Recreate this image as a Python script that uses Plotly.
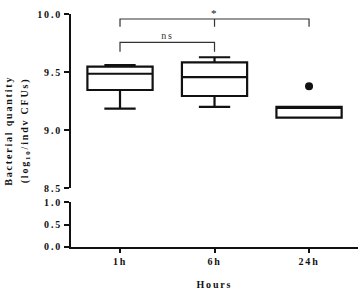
import plotly.graph_objects as go

# ---- data ----
hours = ["1h", "6h", "24h"]
q1 = [9.345, 9.293, 9.106]
median = [9.485, 9.455, 9.200]
q3 = [9.546, 9.583, 9.200]
lower_fence = [9.184, 9.200, 9.106]
upper_fence = [9.560, 9.627, 9.200]
outlier_x = ["24h"]
outlier_y = [9.378]

# significance brackets
star_x = ["1h", "1h", "24h", "24h"]
star_y = [9.89, 9.957, 9.957, 9.89]
star_mid_x = ["6h", "6h"]
star_mid_y = [9.957, 9.89]
ns_x = ["1h", "1h", "6h", "6h"]
ns_y = [9.675, 9.756, 9.756, 9.675]

FONT = "Liberation Serif"
INK = "#111111"

fig = go.Figure()

# empty trace so the lower (broken) axis segment exists
fig.add_trace(go.Scatter(x=hours, y=[None, None, None], yaxis="y",
                         mode="markers", showlegend=False, hoverinfo="skip"))

fig.add_trace(go.Box(
    x=hours, q1=q1, median=median, q3=q3,
    lowerfence=lower_fence, upperfence=upper_fence,
    width=0.69, whiskerwidth=0.48,
    line=dict(color=INK, width=2.2), fillcolor="white",
    boxpoints=False, yaxis="y2", showlegend=False,
))

fig.add_trace(go.Scatter(
    x=outlier_x, y=outlier_y, mode="markers", yaxis="y2",
    marker=dict(color=INK, size=8), showlegend=False,
))

for bx, by in [(star_x, star_y), (star_mid_x, star_mid_y), (ns_x, ns_y)]:
    fig.add_trace(go.Scatter(
        x=bx, y=by, mode="lines", yaxis="y2",
        line=dict(color="#333333", width=1.2), showlegend=False,
        cliponaxis=False,
    ))

tickfont = dict(family=FONT, size=10, color=INK, weight="bold")
axis_common = dict(
    showline=True, linecolor=INK, linewidth=2,
    ticks="outside", ticklen=5, tickwidth=2, tickcolor=INK,
    showgrid=False, zeroline=False, tickfont=tickfont,
)

fig.update_layout(
    width=358, height=289,
    margin=dict(l=71, r=0, t=14, b=42),
    plot_bgcolor="white", paper_bgcolor="white",
    xaxis=dict(**axis_common, type="category", categoryorder="array",
               categoryarray=hours, range=[-0.5185, 2.518], anchor="y"),
    yaxis=dict(**axis_common, domain=[0, 0.1931], range=[0, 1.0],
               tickvals=[0, 0.5, 1.0], tickformat=".1f", anchor="x"),
    yaxis2=dict(**axis_common, domain=[0.2532, 1], range=[8.5, 10.0],
                tickvals=[8.5, 9.0, 9.5, 10.0], tickformat=".1f", anchor="x"),
)
fig.update_xaxes(ticklen=4)

ann_font = dict(family=FONT, size=10, color=INK, weight="bold")
fig.add_annotation(text="*", x="6h", y=9.957, xref="x", yref="y2",
                   yanchor="bottom", showarrow=False, yshift=-2,
                   font=dict(family=FONT, size=11, color=INK))
fig.add_annotation(text="ns", x=0.5, y=9.756, xref="x", yref="y2",
                   yanchor="bottom", showarrow=False, yshift=-1,
                   font=dict(family=FONT, size=10, color="#333333"))
fig.add_annotation(text="Hours", x=(214.5 - 71) / 287, y=(247 - 284) / 233,
                   xref="paper", yref="paper", xanchor="center", yanchor="middle",
                   showarrow=False, font=ann_font)
fig.add_annotation(text="Bacterial quantity", x=(7.5 - 71) / 287, y=(247 - 131) / 233,
                   xref="paper", yref="paper", xanchor="center", yanchor="middle",
                   textangle=-90, showarrow=False, font=ann_font)
fig.add_annotation(text="(log<sub>10</sub>/indv CFUs)", x=(25 - 71) / 287, y=(247 - 131) / 233,
                   xref="paper", yref="paper", xanchor="center", yanchor="middle",
                   textangle=-90, showarrow=False, font=ann_font)

post = """
var st=document.createElement('style');
st.textContent='.main-svg text{letter-spacing:1.8px}';
document.head.appendChild(st);
"""
fig.write_html("out.html", post_script=post)
